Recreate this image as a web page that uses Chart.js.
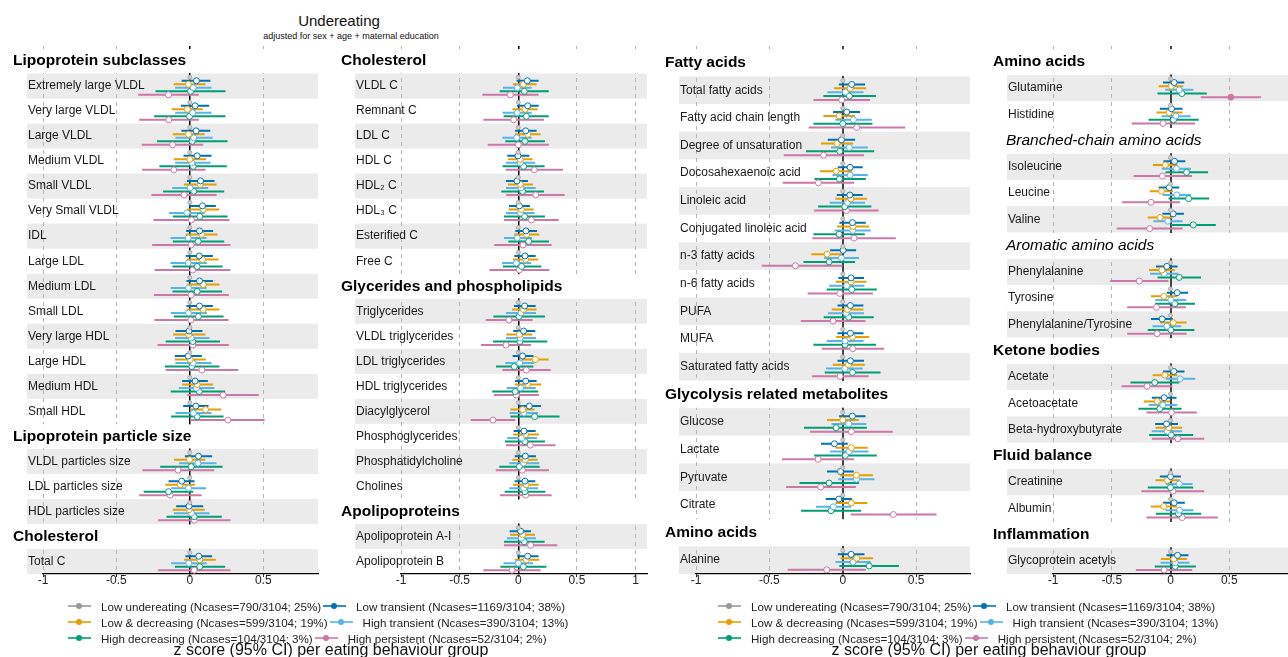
<!DOCTYPE html>
<html>
<head>
<meta charset="utf-8">
<script src="https://cdn.jsdelivr.net/npm/chart.js@4.4.1/dist/chart.umd.min.js"></script>
<style>
  body { margin: 0; width: 1288px; height: 657px; background: #fff; position: relative; overflow: hidden;
         font-family: 'Liberation Sans', Arial, sans-serif; color: #111; }
  canvas { position: absolute; top: 40px; }
  .txt { position: absolute; white-space: nowrap; text-align: center; }
  .legend { position: absolute; font-size: 11.6px; color: #222; }
  .lrow { display: flex; align-items: center; height: 16px; white-space: nowrap; }
  .key { position: relative; width: 23px; height: 10px; margin-right: 10px; }
  .key::before { content: ''; position: absolute; left: 0; right: 0; top: 4px; height: 2px; background: var(--c); opacity: 0.8; }
  .key::after { content: ''; position: absolute; left: 8px; top: 2px; width: 6px; height: 6px; border-radius: 50%; background: var(--c); }
  .ltext { margin-right: 2px; }
</style>
</head>
<body>
<div class="txt" style="left:239px; width:200px; top:12px; font-size:15px;">Undereating</div>
<div class="txt" style="left:201px; width:300px; top:31px; font-size:9px;">adjusted for sex + age + maternal education</div>

<canvas id="p1" width="313" height="562" style="left:10px"></canvas>
<canvas id="p2" width="314" height="562" style="left:338px"></canvas>
<canvas id="p3" width="313" height="562" style="left:662px"></canvas>
<canvas id="p4" width="303" height="562" style="left:990px"></canvas>

<div class="legend" id="leg1" style="left:68px; top:598px"></div>
<div class="legend" id="leg2" style="left:718px; top:598px"></div>
<div class="txt" style="left:131px; width:400px; top:641px; font-size:16px;">z score (95% CI) per eating behaviour group</div>
<div class="txt" style="left:789px; width:400px; top:641px; font-size:16px;">z score (95% CI) per eating behaviour group</div>

<script>
// eating behaviour groups (first one is the reference)
const groupNames = ['Low undereating', 'Low transient', 'Low & decreasing', 'High transient', 'High decreasing', 'High persistent'];
const groupCounts = ['Ncases=790/3104; 25%', 'Ncases=1169/3104; 38%', 'Ncases=599/3104; 19%',
                     'Ncases=390/3104; 13%', 'Ncases=104/3104; 3%', 'Ncases=52/3104; 2%'];
const groupColors = ['#999999', '#0072B2', '#E69F00', '#56B4E9', '#009E73', '#CC79A7'];
const legendRows = [[0, 1], [2, 3], [4, 5]];

// points drawn filled
const significant = [['Glutamine', 'High persistent']];

// ---- panel 1
const p1Sections = ['Lipoprotein subclasses', 'Lipoprotein particle size', 'Cholesterol'];
const p1Rows = [
    ['Extremely large VLDL', 'Very large VLDL', 'Large VLDL', 'Medium VLDL', 'Small VLDL', 'Very Small VLDL', 'IDL',
     'Large LDL', 'Medium LDL', 'Small LDL', 'Very large HDL', 'Large HDL', 'Medium HDL', 'Small HDL'],
    ['VLDL particles size', 'LDL particles size', 'HDL particles size'],
    ['Total C']
];
const p1Ticks = [-1, -0.5, 0, 0.5];
// [estimate, lower, upper]
const p1LowTransient = [[0.045,-0.056,0.14],[0.036,-0.061,0.132],[0.043,-0.057,0.139],[0.05,-0.043,0.148],[0.073,-0.02,0.168],[0.086,-0.005,0.177],[0.066,-0.025,0.159],[0.064,-0.027,0.157],[0.066,-0.023,0.157],[0.066,-0.023,0.157],[-0.005,-0.098,0.086],[-0.011,-0.102,0.082],[0.036,-0.052,0.123],[0.041,-0.045,0.127],[0.059,-0.034,0.152],[-0.055,-0.145,0.032],[-0.005,-0.093,0.091],[0.061,-0.03,0.152]];
const p1LowDecreasing = [[-0.01,-0.11,0.107],[-0.016,-0.123,0.089],[-0.009,-0.116,0.1],[0.0,-0.109,0.111],[0.07,-0.041,0.182],[0.091,-0.018,0.2],[0.08,-0.027,0.189],[0.086,-0.02,0.195],[0.091,-0.018,0.202],[0.091,-0.018,0.202],[-0.007,-0.114,0.107],[0.002,-0.102,0.109],[0.05,-0.052,0.159],[0.107,0.002,0.214],[-0.002,-0.107,0.105],[-0.066,-0.168,0.036],[-0.005,-0.116,0.102],[0.068,-0.039,0.177]];
const p1HighTransient = [[0.023,-0.1,0.148],[0.02,-0.1,0.148],[0.027,-0.098,0.155],[0.014,-0.1,0.141],[0.002,-0.12,0.125],[-0.02,-0.141,0.102],[-0.011,-0.132,0.114],[-0.011,-0.132,0.116],[-0.009,-0.13,0.114],[-0.009,-0.13,0.116],[0.009,-0.1,0.134],[0.023,-0.098,0.148],[0.045,-0.075,0.168],[0.025,-0.098,0.148],[0.055,-0.073,0.182],[-0.009,-0.127,0.111],[0.011,-0.109,0.134],[-0.007,-0.127,0.114]];
const p1HighDecreasing = [[0.005,-0.234,0.243],[-0.002,-0.243,0.243],[0.016,-0.223,0.257],[0.023,-0.207,0.252],[0.027,-0.182,0.234],[0.068,-0.116,0.257],[0.057,-0.116,0.234],[0.05,-0.118,0.223],[0.05,-0.118,0.22],[0.059,-0.109,0.23],[0.02,-0.164,0.205],[0.014,-0.17,0.202],[0.064,-0.13,0.241],[0.05,-0.127,0.23],[0.009,-0.202,0.223],[-0.145,-0.314,0.023],[0.03,-0.159,0.218],[0.068,-0.102,0.241]];
const p1HighPersistent = [[-0.145,-0.352,0.061],[-0.143,-0.345,0.061],[-0.118,-0.327,0.091],[-0.109,-0.325,0.107],[-0.039,-0.261,0.182],[0.011,-0.248,0.27],[0.009,-0.257,0.277],[0.02,-0.239,0.277],[0.009,-0.245,0.266],[0.007,-0.241,0.264],[0.02,-0.22,0.266],[0.082,-0.164,0.33],[0.227,-0.018,0.47],[0.259,0.002,0.509],[-0.08,-0.323,0.166],[-0.134,-0.345,0.08],[0.03,-0.216,0.277],[0.03,-0.216,0.277]];

// ---- panel 2
const p2Sections = ['Cholesterol', 'Glycerides and phospholipids', 'Apolipoproteins'];
const p2Rows = [
    ['VLDL C', 'Remnant C', 'LDL C', 'HDL C', 'HDL\u2082 C', 'HDL\u2083 C', 'Esterified C', 'Free C'],
    ['Triglycerides', 'VLDL triglycerides', 'LDL triglycerides', 'HDL triglycerides', 'Diacylglycerol',
     'Phosphoglycerides', 'Phosphatidylcholine', 'Cholines'],
    ['Apolipoprotein A-I', 'Apolipoprotein B']
];
const p2Ticks = [-1, -0.5, 0, 0.5, 1];
const p2LowTransient = [[0.077,-0.014,0.173],[0.08,-0.011,0.173],[0.063,-0.028,0.156],[-0.003,-0.094,0.094],[-0.011,-0.105,0.082],[0.009,-0.08,0.099],[0.065,-0.026,0.159],[0.057,-0.034,0.148],[0.054,-0.037,0.148],[0.045,-0.043,0.145],[0.037,-0.048,0.128],[0.063,-0.028,0.156],[0.094,0.003,0.193],[0.048,-0.04,0.148],[0.06,-0.031,0.151],[0.057,-0.031,0.145],[0.02,-0.074,0.108],[0.08,-0.009,0.173]];
const p2LowDecreasing = [[0.043,-0.045,0.156],[0.057,-0.051,0.165],[0.08,-0.028,0.19],[0.017,-0.088,0.122],[0.017,-0.088,0.125],[0.026,-0.082,0.131],[0.071,-0.037,0.179],[0.063,-0.045,0.17],[0.043,-0.054,0.156],[0.009,-0.102,0.119],[0.145,0.028,0.259],[0.08,-0.031,0.196],[0.037,-0.068,0.139],[0.063,-0.045,0.176],[0.06,-0.051,0.165],[0.065,-0.045,0.173],[0.037,-0.071,0.142],[0.068,-0.031,0.179]];
const p2HighTransient = [[-0.009,-0.131,0.114],[-0.009,-0.134,0.114],[-0.014,-0.136,0.114],[0.017,-0.105,0.145],[0.023,-0.105,0.148],[0.017,-0.105,0.139],[-0.009,-0.122,0.116],[-0.017,-0.139,0.108],[0.023,-0.105,0.151],[0.017,-0.105,0.151],[0.011,-0.111,0.136],[0.02,-0.099,0.148],[0.048,-0.074,0.168],[0.028,-0.094,0.159],[0.045,-0.077,0.179],[0.045,-0.077,0.168],[0.026,-0.097,0.151],[0.0,-0.125,0.125]];
const p2HighDecreasing = [[0.051,-0.159,0.259],[0.068,-0.125,0.259],[0.057,-0.111,0.227],[0.045,-0.134,0.224],[0.037,-0.145,0.219],[0.054,-0.122,0.227],[0.088,-0.085,0.261],[0.028,-0.131,0.196],[0.006,-0.213,0.227],[0.014,-0.216,0.247],[-0.034,-0.19,0.128],[-0.026,-0.222,0.17],[0.139,-0.068,0.352],[0.057,-0.114,0.227],[0.009,-0.162,0.182],[0.057,-0.116,0.23],[0.051,-0.122,0.224],[0.043,-0.153,0.239]];
const p2HighPersistent = [[-0.068,-0.307,0.173],[-0.04,-0.298,0.219],[0.0,-0.261,0.261],[0.136,-0.108,0.381],[0.148,-0.102,0.395],[0.111,-0.122,0.344],[0.04,-0.205,0.284],[0.009,-0.247,0.264],[-0.08,-0.278,0.122],[-0.105,-0.318,0.108],[0.068,-0.136,0.276],[-0.017,-0.207,0.176],[-0.216,-0.406,-0.026],[0.102,-0.105,0.318],[0.034,-0.193,0.261],[0.063,-0.156,0.284],[0.105,-0.122,0.332],[-0.054,-0.298,0.19]];

// ---- panel 3
const p3Sections = ['Fatty acids', 'Glycolysis related metabolites', 'Amino acids'];
const p3Rows = [
    ['Total fatty acids', 'Fatty acid chain length', 'Degree of unsaturation', 'Docosahexaenoic acid', 'Linoleic acid',
     'Conjugated linoleic acid', 'n-3 fatty acids', 'n-6 fatty acids', 'PUFA', 'MUFA', 'Saturated fatty acids'],
    ['Glucose', 'Lactate', 'Pyruvate', 'Citrate'],
    ['Alanine']
];
const p3Ticks = [-1, -0.5, 0, 0.5];
const p3LowTransient = [[0.061,-0.027,0.152],[0.027,-0.066,0.118],[-0.009,-0.102,0.084],[0.05,-0.034,0.136],[0.048,-0.041,0.136],[0.066,-0.023,0.157],[0.002,-0.086,0.091],[0.057,-0.03,0.145],[0.052,-0.036,0.141],[0.052,-0.036,0.141],[0.052,-0.036,0.145],[0.066,-0.025,0.155],[-0.057,-0.148,0.034],[-0.016,-0.107,0.075],[-0.027,-0.116,0.064],[0.057,-0.034,0.148]];
const p3LowDecreasing = [[0.05,-0.059,0.159],[-0.025,-0.132,0.084],[-0.039,-0.148,0.07],[-0.045,-0.155,0.064],[0.055,-0.05,0.164],[0.07,-0.039,0.18],[-0.107,-0.214,-0.005],[0.057,-0.048,0.161],[0.032,-0.075,0.141],[0.066,-0.045,0.18],[0.039,-0.068,0.15],[0.0,-0.107,0.109],[0.059,-0.05,0.17],[0.093,-0.018,0.205],[0.059,-0.05,0.168],[0.095,-0.016,0.207]];
const p3HighTransient = [[0.018,-0.105,0.141],[0.073,-0.05,0.198],[0.045,-0.08,0.17],[0.05,-0.07,0.17],[0.032,-0.089,0.152],[0.068,-0.055,0.191],[-0.009,-0.127,0.111],[0.027,-0.093,0.148],[0.023,-0.1,0.145],[0.016,-0.109,0.141],[0.014,-0.114,0.136],[0.041,-0.077,0.161],[0.043,-0.086,0.175],[0.093,-0.03,0.216],[-0.064,-0.182,0.057],[0.07,-0.05,0.191]];
const p3HighDecreasing = [[0.045,-0.132,0.227],[0.0,-0.2,0.202],[-0.02,-0.25,0.214],[-0.023,-0.193,0.157],[0.014,-0.168,0.195],[-0.025,-0.2,0.15],[-0.093,-0.268,0.084],[0.061,-0.109,0.232],[0.041,-0.13,0.211],[0.016,-0.2,0.227],[0.066,-0.123,0.257],[-0.045,-0.264,0.164],[0.018,-0.195,0.232],[-0.093,-0.295,0.111],[-0.08,-0.284,0.125],[0.18,-0.023,0.382]];
const p3HighPersistent = [[-0.007,-0.2,0.186],[0.095,-0.232,0.425],[-0.13,-0.402,0.145],[-0.166,-0.409,0.077],[0.025,-0.195,0.245],[0.077,-0.207,0.361],[-0.323,-0.552,-0.002],[-0.02,-0.239,0.205],[-0.066,-0.286,0.155],[0.068,-0.143,0.282],[-0.018,-0.209,0.177],[0.059,-0.223,0.341],[-0.168,-0.414,0.077],[-0.15,-0.386,0.089],[0.345,0.055,0.639],[-0.109,-0.375,0.157]];

// ---- panel 4
const p4Sections = ['Amino acids', 'Branched-chain amino acids', 'Aromatic amino acids', 'Ketone bodies', 'Fluid balance', 'Inflammation'];
const p4ItalicSections = ['Branched-chain amino acids', 'Aromatic amino acids'];
const p4Rows = [
    ['Glutamine', 'Histidine'],
    ['Isoleucine', 'Leucine', 'Valine'],
    ['Phenylalanine', 'Tyrosine', 'Phenylalanine/Tyrosine'],
    ['Acetate', 'Acetoacetate', 'Beta-hydroxybutyrate'],
    ['Creatinine', 'Albumin'],
    ['Glycoprotein acetyls']
];
const p4Ticks = [-1, -0.5, 0, 0.5];
const p4LowTransient = [[0.031,-0.063,0.117],[0.009,-0.091,0.103],[0.034,-0.06,0.126],[-0.011,-0.1,0.074],[0.023,-0.069,0.114],[-0.031,-0.123,0.06],[0.057,-0.031,0.151],[-0.071,-0.166,0.02],[0.028,-0.063,0.119],[-0.054,-0.159,0.051],[-0.034,-0.131,0.063],[0.0,-0.091,0.088],[0.031,-0.063,0.122],[0.06,-0.034,0.153]];
const p4LowDecreasing = [[0.006,-0.1,0.109],[-0.011,-0.12,0.103],[-0.043,-0.149,0.06],[-0.077,-0.177,0.023],[-0.089,-0.194,0.017],[-0.074,-0.183,0.037],[-0.057,-0.166,0.054],[0.023,-0.091,0.137],[-0.048,-0.153,0.06],[-0.114,-0.227,-0.003],[-0.014,-0.128,0.099],[-0.026,-0.128,0.08],[-0.057,-0.168,0.057],[0.028,-0.082,0.139]];
const p4HighTransient = [[0.074,-0.046,0.194],[0.046,-0.077,0.171],[0.051,-0.074,0.174],[0.054,-0.066,0.174],[-0.023,-0.146,0.103],[-0.054,-0.174,0.066],[0.003,-0.129,0.134],[-0.031,-0.154,0.091],[0.082,-0.04,0.21],[-0.065,-0.185,0.057],[-0.028,-0.159,0.099],[0.074,-0.04,0.188],[0.077,-0.043,0.196],[0.04,-0.085,0.162]];
const p4HighDecreasing = [[0.097,-0.111,0.309],[0.026,-0.186,0.24],[0.137,-0.043,0.32],[0.154,-0.017,0.329],[0.194,0.003,0.386],[0.074,-0.111,0.26],[0.037,-0.131,0.209],[0.003,-0.194,0.203],[-0.134,-0.341,0.074],[-0.091,-0.273,0.094],[0.006,-0.182,0.193],[0.0,-0.193,0.193],[0.068,-0.125,0.261],[0.04,-0.134,0.216]];
const p4HighPersistent = [[0.514,0.257,0.771],[-0.063,-0.331,0.209],[-0.069,-0.314,0.183],[-0.166,-0.411,0.08],[-0.177,-0.457,0.103],[-0.266,-0.514,-0.017],[-0.12,-0.369,0.131],[-0.114,-0.369,0.137],[-0.199,-0.418,0.017],[0.009,-0.205,0.224],[0.063,-0.159,0.287],[0.02,-0.247,0.287],[0.099,-0.205,0.403],[-0.054,-0.295,0.185]];

const FONT = "'Liberation Sans', Arial, sans-serif";
const dodge = [-0.35, -0.21, -0.07, 0.07, 0.21, 0.35];   // vertical offset of each group within a row
const BAND_LEFT = 17;

const panels = [
    { id: 'p1', sections: p1Sections, rows: p1Rows, italics: [], ticks: p1Ticks, xMax: 0.873, padLeft: 33,
      zeroColor: '#000', zeroWidth: 1.5,
      series: [p1LowTransient, p1LowDecreasing, p1HighTransient, p1HighDecreasing, p1HighPersistent] },
    { id: 'p2', sections: p2Sections, rows: p2Rows, italics: [], ticks: p2Ticks, xMax: 1.097, padLeft: 63,
      zeroColor: '#000', zeroWidth: 1.5,
      series: [p2LowTransient, p2LowDecreasing, p2HighTransient, p2HighDecreasing, p2HighPersistent] },
    { id: 'p3', sections: p3Sections, rows: p3Rows, italics: [], ticks: p3Ticks, xMax: 0.867, padLeft: 34,
      zeroColor: '#444', zeroWidth: 2,
      series: [p3LowTransient, p3LowDecreasing, p3HighTransient, p3HighDecreasing, p3HighPersistent] },
    { id: 'p4', sections: p4Sections, rows: p4Rows, italics: p4ItalicSections, ticks: p4Ticks, xMax: 1.0, padLeft: 63,
      zeroColor: '#444', zeroWidth: 2,
      series: [p4LowTransient, p4LowDecreasing, p4HighTransient, p4HighDecreasing, p4HighPersistent] }
];

function buildSlots(p) {
    const slots = [];
    p.sections.forEach((name, s) => {
        slots.push({ kind: 'header', text: name, italic: p.italics.includes(name) });
        p.rows[s].forEach((label, i) => slots.push({ kind: 'row', text: label, band: i % 2 === 0 }));
    });
    return slots;
}

function isFilled(label, g) {
    return significant.some(s => s[0] === label && s[1] === groupNames[g]);
}

function decorPlugin(slots) {
    return {
        id: 'decor',
        beforeDraw(chart) {
            const { ctx, chartArea, scales: { y } } = chart;
            ctx.save();
            ctx.fillStyle = '#ebebeb';
            slots.forEach((s, i) => {
                if (s.kind !== 'row' || !s.band) return;
                const t = y.getPixelForValue(i - 0.5), b = y.getPixelForValue(i + 0.5);
                ctx.fillRect(BAND_LEFT, t, chartArea.right - BAND_LEFT, b - t);
            });
            ctx.restore();
        },
        beforeDatasetsDraw(chart) {
            const { ctx, chartArea, scales: { y } } = chart;
            ctx.save();
            ctx.textBaseline = 'middle';
            slots.forEach((s, i) => {
                const cy = y.getPixelForValue(i);
                if (s.kind === 'header') {
                    // no grid lines through the section titles
                    const t = y.getPixelForValue(i - 0.5), b = y.getPixelForValue(i + 0.5);
                    ctx.fillStyle = '#fff';
                    ctx.fillRect(0, t + 0.5, chartArea.right + 2, b - t - 1);
                    ctx.fillStyle = '#000';
                    if (s.italic) {
                        ctx.font = 'italic 15.5px ' + FONT;
                        ctx.fillText(s.text, 16, cy);
                    } else {
                        ctx.font = 'bold 15.5px ' + FONT;
                        ctx.fillText(s.text, 3, cy);
                    }
                } else {
                    ctx.fillStyle = '#1a1a1a';
                    ctx.font = '12px ' + FONT;
                    ctx.fillText(s.text, BAND_LEFT + 1, cy);
                }
            });
            ctx.restore();
        }
    };
}

function buildDatasets(p, slots) {
    const rowSlots = [];
    const rowLabels = [];
    slots.forEach((s, i) => { if (s.kind === 'row') { rowSlots.push(i); rowLabels.push(s.text); } });

    const ds = [{
        data: rowSlots.map(r => ({ x: 0, y: r + dodge[0] })),
        showLine: false, pointRadius: 2, pointBorderWidth: 1,
        pointBackgroundColor: '#d0d0d0', pointBorderColor: '#aaaaaa', order: 1
    }];
    p.series.forEach((vals, k) => {
        const g = k + 1;
        const ci = [];
        vals.forEach((v, r) => {
            const yy = rowSlots[r] + dodge[g];
            ci.push({ x: v[1], y: yy }, { x: v[2], y: yy }, { x: v[2], y: null });
        });
        ds.push({ data: ci, showLine: true, spanGaps: false, borderColor: groupColors[g], borderWidth: 2,
                  pointRadius: 0, order: 3 });
        ds.push({
            data: vals.map((v, r) => ({ x: v[0], y: rowSlots[r] + dodge[g] })),
            showLine: false, pointRadius: 3, pointBorderWidth: 1,
            pointBorderColor: groupColors[g],
            pointBackgroundColor: vals.map((v, r) => isFilled(rowLabels[r], g) ? groupColors[g] : '#fff'),
            order: 1
        });
    });
    return ds;
}

panels.forEach(p => {
    const slots = buildSlots(p);
    new Chart(document.getElementById(p.id), {
        type: 'scatter',
        data: { datasets: buildDatasets(p, slots) },
        options: {
            responsive: false,
            animation: false,
            events: [],
            layout: { padding: { left: p.padLeft, right: 0, top: 6, bottom: 17 } },
            plugins: { legend: { display: false }, tooltip: { enabled: false } },
            scales: {
                x: {
                    type: 'linear', min: -1, max: p.xMax,
                    afterBuildTicks: s => { s.ticks = p.ticks.map(v => ({ value: v })); },
                    grid: {
                        color: c => (c.tick && c.tick.value === 0) ? p.zeroColor : '#b5b5b5',
                        lineWidth: c => (c.tick && c.tick.value === 0) ? p.zeroWidth : 1,
                        tickLength: 3, tickColor: '#333', tickWidth: 1
                    },
                    border: {
                        display: true, color: '#000', width: 1.2,
                        dash: c => (c.tick && c.tick.value !== 0) ? [4, 4] : []
                    },
                    ticks: {
                        font: { size: 12, family: FONT, lineHeight: 1 }, color: '#222', padding: -2,
                        maxRotation: 0, autoSkip: false,
                        callback: v => String(v)
                    }
                },
                y: { type: 'linear', min: -0.6, max: slots.length - 0.5, reverse: true, display: false }
            }
        },
        plugins: [decorPlugin(slots)]
    });
});

// legends
function fillLegend(id) {
    const box = document.getElementById(id);
    legendRows.forEach(pair => {
        const row = document.createElement('div');
        row.className = 'lrow';
        pair.forEach(g => {
            const key = document.createElement('span');
            key.className = 'key';
            key.style.setProperty('--c', groupColors[g]);
            const txt = document.createElement('span');
            txt.className = 'ltext';
            txt.textContent = groupNames[g] + ' (' + groupCounts[g] + ')';
            row.appendChild(key);
            row.appendChild(txt);
        });
        box.appendChild(row);
    });
}
fillLegend('leg1');
fillLegend('leg2');
</script>
</body>
</html>
